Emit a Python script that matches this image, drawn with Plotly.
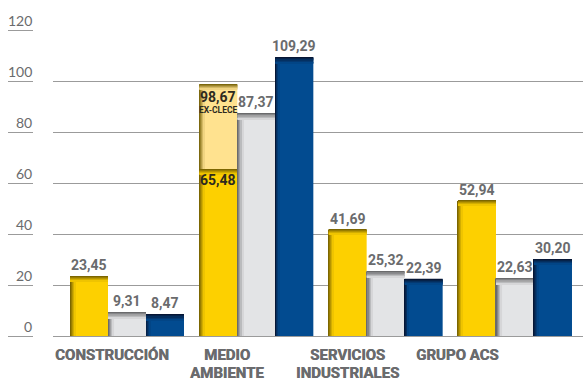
import plotly.graph_objects as go

# Data (million euros) per business area
categories = [["CONSTRUCCIÓN"], ["MEDIO", "AMBIENTE"], ["SERVICIOS", "INDUSTRIALES"], ["GRUPO ACS"]]
serie_1 = [23.45, 98.67, 41.69, 52.94]      # yellow (Medio Ambiente total incl. ex-Clece)
serie_1_excl = [None, 65.48, None, None]    # Medio Ambiente excluding Clece
serie_2 = [9.31, 87.37, 25.32, 22.63]       # grey
serie_3 = [8.47, 109.29, 22.39, 30.20]      # blue
y_ticks = [0, 20, 40, 60, 80, 100, 120]

W, H = 583, 383
PLOT_L, PLOT_R, PLOT_T, PLOT_B = 53, 583, 30, 336
PX_PER_X = 129.33
PX_PER_Y = (PLOT_B - PLOT_T) / 120.0
X0_PX = 127

BAR_W = 38 / PX_PER_X
OFFSETS = [-57 / PX_PER_X, -19 / PX_PER_X, 19 / PX_PER_X]

GRID = "#9b9b9b"
TXT = "#6a6b6d"
DARK_TXT = "#2e2a1e"


def fmt(v):
    return f"{v:.2f}".replace(".", ",")


def mix(c1, c2, t):
    a = [int(c1[i:i + 2], 16) for i in (1, 3, 5)]
    b = [int(c2[i:i + 2], 16) for i in (1, 3, 5)]
    return "#" + "".join(f"{round(a[k] + (b[k] - a[k]) * t):02x}" for k in range(3))


fig = go.Figure()


def add_bars(xs, tops, bases, offset, color, dark, top_px=5, left_px=5, n=5):
    xs2 = [x for x, t in zip(xs, tops) if t is not None]
    b2 = [b for b, t in zip(bases, tops) if t is not None]
    t2 = [t for t in tops if t is not None]
    # body
    fig.add_trace(go.Bar(x=xs2, y=[t - b for t, b in zip(t2, b2)], base=b2,
                         offset=offset, width=BAR_W, marker=dict(color=color, line=dict(width=0)),
                         hoverinfo="skip", showlegend=False))
    # left bevel
    sw = left_px / n / PX_PER_X
    for k in range(n):
        c = mix(dark, color, (k + 0.5) / n)
        fig.add_trace(go.Bar(x=xs2, y=[t - b for t, b in zip(t2, b2)], base=b2,
                             offset=offset + k * sw, width=sw * 1.05,
                             marker=dict(color=c, line=dict(width=0)),
                             hoverinfo="skip", showlegend=False))
    # top bevel
    sh = top_px / n / PX_PER_Y
    for k in range(n):
        c = mix(dark, color, (k + 0.5) / n)
        fig.add_trace(go.Bar(x=xs2, y=[sh * 1.05] * len(t2), base=[t - (k + 1) * sh for t in t2],
                             offset=offset, width=BAR_W,
                             marker=dict(color=c, line=dict(width=0)),
                             hoverinfo="skip", showlegend=False))


idx = list(range(len(categories)))
zeros = [0] * len(idx)

YEL, YEL_D = "#fdd000", "#6e5a00"
YEL_L = "#ffe28f"
GRY, GRY_D = "#e3e4e6", "#5c5c5e"
BLU, BLU_D = "#024b90", "#07102b"

# yellow series: full bars, Medio Ambiente split into solid + light top
yel_full = [v if s is None else s for v, s in zip(serie_1, serie_1_excl)]
add_bars(idx, yel_full, zeros, OFFSETS[0], YEL, YEL_D)
light_tops = [v if s is not None else None for v, s in zip(serie_1, serie_1_excl)]
light_bases = [s if s is not None else 0 for s in serie_1_excl]
add_bars(idx, light_tops, light_bases, OFFSETS[0], YEL_L, YEL_D)
add_bars(idx, serie_2, zeros, OFFSETS[1], GRY, GRY_D, top_px=6, left_px=6)
add_bars(idx, serie_3, zeros, OFFSETS[2], BLU, BLU_D, top_px=6, left_px=4)

ann = []
lab_font = dict(family="Roboto", size=14, color=TXT)
for series, off, has_split in ((serie_1, OFFSETS[0], True), (serie_2, OFFSETS[1], False), (serie_3, OFFSETS[2], False)):
    for i, v in enumerate(series):
        xc = i + off + BAR_W / 2
        if has_split and serie_1_excl[i] is not None:
            ann.append(dict(x=xc, y=v, xref="x", yref="y", text="<b>" + fmt(v) + "</b>",
                            showarrow=False, yanchor="middle", yshift=-13,
                            font=dict(family="Roboto", size=14, color=DARK_TXT)))
            ann.append(dict(x=xc, y=v, xref="x", yref="y", text="<b>EX-CLECE</b>",
                            showarrow=False, yanchor="middle", yshift=-26,
                            font=dict(family="Roboto", size=8.5, color=DARK_TXT)))
            s = serie_1_excl[i]
            ann.append(dict(x=xc, y=s, xref="x", yref="y", text="<b>" + fmt(s) + "</b>",
                            showarrow=False, yanchor="middle", yshift=-11,
                            font=dict(family="Roboto", size=14, color=DARK_TXT)))
        else:
            ann.append(dict(x=xc, y=v, xref="x", yref="y", text="<b>" + fmt(v) + "</b>",
                            showarrow=False, yanchor="middle", yshift=11, font=lab_font))

# y tick labels sitting above their underline ticks
for t in y_ticks:
    ann.append(dict(x=33 / W, y=t, xref="paper", yref="y", text=str(t), showarrow=False,
                    xanchor="right", yanchor="middle", yshift=10, xshift=1,
                    font=dict(family="Lato", size=14, color=TXT)))

# category labels, one annotation per line
label_px = [112, 227, 347, 457]
for lines, px in zip(categories, label_px):
    for j, line in enumerate(lines):
        ann.append(dict(x=px / W, y=0, xref="paper", yref="paper", text="<b>" + line + "</b>",
                        showarrow=False, xanchor="center", yanchor="middle", yshift=-19 - 18 * j,
                        font=dict(family="Roboto", size=15, color=TXT,
                                  shadow="0.5px 0 0 " + TXT)))

fig.update_layout(
    width=W, height=H,
    margin=dict(l=0, r=0, t=PLOT_T, b=H - PLOT_B),
    paper_bgcolor="white", plot_bgcolor="white",
    barmode="overlay",
    annotations=ann,
    xaxis=dict(domain=[PLOT_L / W, 1], range=[(PLOT_L - X0_PX) / PX_PER_X, (PLOT_R - X0_PX) / PX_PER_X],
               showticklabels=False, showgrid=False, zeroline=False, ticks=""),
    yaxis=dict(range=[0, 120], tickvals=y_ticks, showticklabels=False,
               anchor="free", position=33 / W,
               ticks="outside", ticklen=25, tickcolor=GRID, tickwidth=1,
               showgrid=True, gridcolor=GRID, gridwidth=1,
               zeroline=True, zerolinecolor=GRID, zerolinewidth=1, showline=False),
)

fig.write_html("out.html")
